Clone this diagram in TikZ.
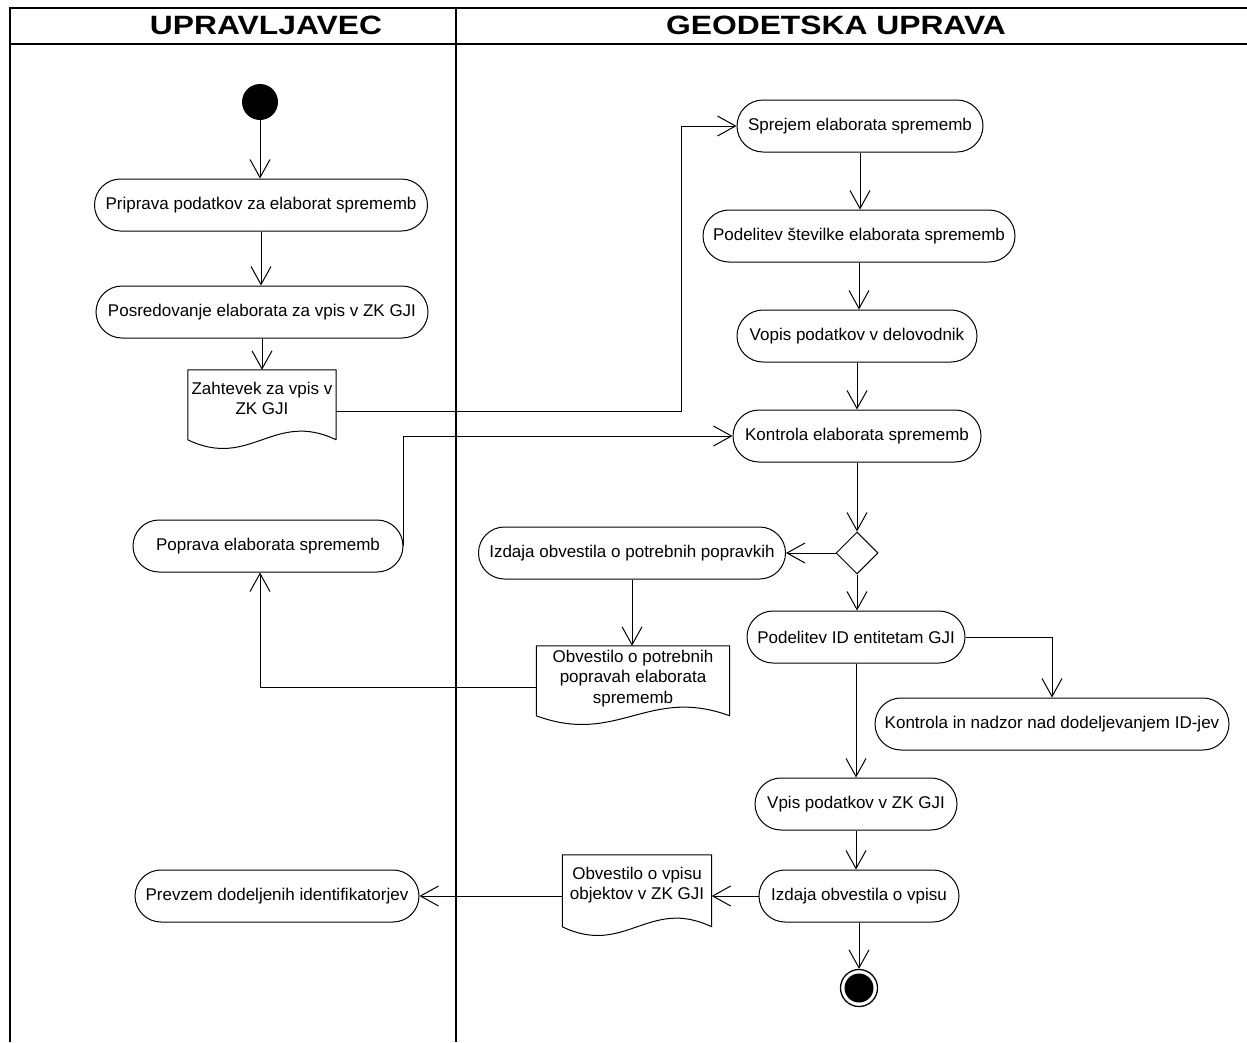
\documentclass[tikz,border=0pt]{standalone}
\usepackage{fontspec}
\setmainfont{Liberation Sans}
\usetikzlibrary{arrows.meta,calc,shapes.geometric}
\newcommand\docoutline[2]{%
  \path (#1.north west) ++(0,#2) coordinate (#1-bl);
  \path (#1.north east) ++(0,#2) coordinate (#1-br);
  \draw[line width=1pt] (#1-br) -- (#1.north east) -- (#1.north west) -- (#1-bl)
    .. controls ($(#1-bl)!0.42!(#1-br)+(0,30)$) and ($(#1-bl)!0.58!(#1-br)+(0,-30)$) .. (#1-br);}
\begin{document}
\begin{tikzpicture}[x=1pt,y=-1pt,
  txt/.style={font=\fontsize{17}{20.5}\selectfont},
  act/.style={txt, draw, line width=1pt, rounded corners=26pt, minimum height=52pt, inner sep=0pt},
  docbox/.style={draw=none, inner sep=0pt, minimum height=82pt},
  doctxt/.style={txt, align=center, anchor=north, inner sep=0pt},
  flow/.style={line width=1pt, -{Straight Barb[length=18pt,width=20pt,line width=1pt]}},
  frame/.style={line width=2.2pt},
  hdr/.style={font=\fontsize{26.5}{30}\selectfont\bfseries, anchor=base, inner sep=0pt}
]
\useasboundingbox (0,0) rectangle (1247,1042);
% frame
\draw[frame] (10,1042) -- (10,8) -- (1247,8);
\draw[frame] (10,44) -- (1247,44);
\draw[frame] (456,8) -- (456,1042);
\node[hdr] (h1) at (266,34) {\scalebox{1.2}[1]{UPRAVLJAVEC}};
\node[hdr] (h2) at (836,34) {\scalebox{1.2}[1]{GEODETSKA UPRAVA}};

% left lane
\node[circle, fill=black, minimum size=36pt, inner sep=0pt] (start) at (260,102) {};
\node[act, minimum width=333pt] (prip) at (261,205) {Priprava podatkov za elaborat sprememb};
\node[act, minimum width=332pt] (posr) at (262,312) {Posredovanje elaborata za vpis v ZK GJI};
\node[docbox, minimum width=148pt, label={[doctxt, yshift=-12pt]north:{Zahtevek za vpis v\\ZK GJI}}] (zah) at (262,411) {};
\docoutline{zah}{70}
\node[act, minimum width=270pt] (popr) at (268,546) {Poprava elaborata sprememb};
\node[act, minimum width=284pt] (prev) at (277,896) {Prevzem dodeljenih identifikatorjev};

% right lane
\node[act, minimum width=246pt] (spre) at (860,126) {Sprejem elaborata sprememb};
\node[act, minimum width=312pt] (podst) at (859,236) {Podelitev številke elaborata sprememb};
\node[act, minimum width=240pt] (vop) at (857,336) {Vopis podatkov v delovodnik};
\node[act, minimum width=248pt] (kon) at (857,436) {Kontrola elaborata sprememb};
\node[diamond, draw, line width=1pt, minimum size=42pt, inner sep=0pt] (dia) at (857,553) {};
\node[act, minimum width=307pt] (izd) at (632,553) {Izdaja obvestila o potrebnih popravkih};
\node[docbox, minimum width=193pt, label={[doctxt, yshift=-4pt]north:{Obvestilo o potrebnih\\popravah elaborata\\sprememb}}] (obv) at (633,687) {};
\docoutline{obv}{70}
\node[act, minimum width=218pt] (podid) at (856,637) {Podelitev ID entitetam GJI};
\node[act, minimum width=354pt] (kin) at (1052,724) {Kontrola in nadzor nad dodeljevanjem ID-jev};
\node[act, minimum width=202pt] (vpis) at (856,804) {Vpis podatkov v ZK GJI};
\node[act, minimum width=200pt] (izv) at (859,896) {Izdaja obvestila o vpisu};
\node[docbox, minimum width=149pt, label={[doctxt, yshift=-12pt]north:{Obvestilo o vpisu\\objektov v ZK GJI}}] (obvv) at (637,896) {};
\docoutline{obvv}{72}
\node[circle, draw, line width=1.3pt, minimum size=37pt, inner sep=0pt,
  path picture={\fill[black] (path picture bounding box.center) circle (14.5pt);}] (end) at (859,988) {};

% connectors
\draw[flow] (start.south) -- (start.south |- prip.north);
\draw[flow] (prip.south) -- (prip.south |- posr.north);
\draw[flow] (posr.south) -- (posr.south |- zah.north);
\draw[flow] (zah.east) -| ($(spre.west)+(-55,0)$) -- (spre.west);
\draw[flow] (spre.south) -- (spre.south |- podst.north);
\draw[flow] (podst.south) -- (podst.south |- vop.north);
\draw[flow] (vop.south) -- (vop.south |- kon.north);
\draw[flow] (popr.east) |- (kon.west);
\draw[flow] (kon.south) -- (dia.north);
\draw[flow] (dia.west) -- (izd.east);
\draw[flow] (dia.south) -- (dia.south |- podid.north);
\draw[flow] (izd.south) -- (izd.south |- obv.north);
\draw[flow] (obv.west) -| ($(popr.south)+(-8,0)$);
\draw[flow] (podid.east) -| (kin.north);
\draw[flow] (podid.south) -- (podid.south |- vpis.north);
\draw[flow] (vpis.south) -- (vpis.south |- izv.north);
\draw[flow] (izv.west) -- (obvv.east);
\draw[flow] (obvv.west) -- (obvv.west -| prev.east);
\draw[flow] (izv.south) -- (izv.south |- end.north);
\end{tikzpicture}
\end{document}
